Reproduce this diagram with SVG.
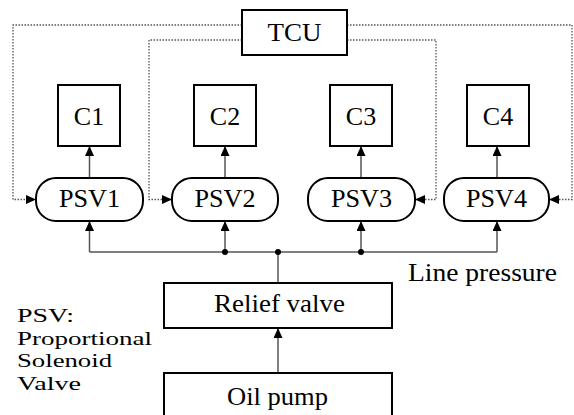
<svg xmlns="http://www.w3.org/2000/svg" width="574" height="415" viewBox="0 0 574 415">
<style>
.box{fill:#fff;stroke:#000;stroke-width:2}
.t{font-size:26px;fill:#000}
.lg{font-size:19px}
.c{text-anchor:middle}
.ln{fill:none;stroke:#555;stroke-width:1.5}
.dt{fill:none;stroke:#555;stroke-width:1.3;stroke-dasharray:1.5 1.5}
</style>
<defs>
<marker id="ah" markerUnits="userSpaceOnUse" markerWidth="10" markerHeight="10" refX="10" refY="4.5" orient="auto">
<path d="M0,0 L10,4.5 L0,9 z" fill="#000"/>
</marker>
</defs>
<g id="connectors">
<path class="dt" d="M242,25 H13 V199.5 H36" marker-end="url(#ah)"/>
<path class="dt" d="M242,40 H149 V199.5 H172" marker-end="url(#ah)"/>
<path class="dt" d="M347,40 H436 V199.5 H415" marker-end="url(#ah)"/>
<path class="dt" d="M347,25 H572 V199.5 H549" marker-end="url(#ah)"/>
<path class="ln" d="M89.5,178 V146" marker-end="url(#ah)"/>
<path class="ln" d="M225,178 V146" marker-end="url(#ah)"/>
<path class="ln" d="M361,178 V146" marker-end="url(#ah)"/>
<path class="ln" d="M497,178 V146" marker-end="url(#ah)"/>
<path class="ln" d="M89.5,252 H497" />
<path class="ln" d="M89.5,252 V221" marker-end="url(#ah)"/>
<path class="ln" d="M225,252 V221" marker-end="url(#ah)"/>
<path class="ln" d="M361,252 V221" marker-end="url(#ah)"/>
<path class="ln" d="M497,252 V221" marker-end="url(#ah)"/>
<path class="ln" d="M278,283 V252"/>
<path class="ln" d="M278,373 V328" marker-end="url(#ah)"/>
<circle cx="225" cy="252" r="3" fill="#000"/>
<circle cx="278" cy="252" r="3" fill="#000"/>
<circle cx="361" cy="252" r="3" fill="#000"/>
</g>
<g font-family="Liberation Serif, Times New Roman, DejaVu Serif, serif">
<g id="tcu"><rect class="box" x="242" y="10" width="105" height="45"/><text class="t c" x="294.5" y="41" textLength="54" lengthAdjust="spacingAndGlyphs">TCU</text></g>
<g id="c1"><rect class="box" x="58" y="85" width="62" height="61"/><text class="t c" x="89" y="125">C1</text></g>
<g id="c2"><rect class="box" x="194" y="85" width="62" height="61"/><text class="t c" x="225" y="125">C2</text></g>
<g id="c3"><rect class="box" x="330" y="85" width="62" height="61"/><text class="t c" x="361" y="125">C3</text></g>
<g id="c4"><rect class="box" x="467" y="85" width="62" height="61"/><text class="t c" x="498" y="125">C4</text></g>
<g id="psv1"><rect class="box" x="36" y="178" width="107" height="43" rx="20" ry="20"/><text class="t c" x="89.5" y="207" textLength="61" lengthAdjust="spacingAndGlyphs">PSV1</text></g>
<g id="psv2"><rect class="box" x="172" y="178" width="106" height="43" rx="20" ry="20"/><text class="t c" x="225" y="207" textLength="61" lengthAdjust="spacingAndGlyphs">PSV2</text></g>
<g id="psv3"><rect class="box" x="308" y="178" width="107" height="43" rx="20" ry="20"/><text class="t c" x="361.5" y="207" textLength="61" lengthAdjust="spacingAndGlyphs">PSV3</text></g>
<g id="psv4"><rect class="box" x="444" y="178" width="105" height="43" rx="20" ry="20"/><text class="t c" x="496.5" y="207" textLength="61" lengthAdjust="spacingAndGlyphs">PSV4</text></g>
<g id="relief"><rect class="box" x="164" y="283" width="228" height="45"/><text class="t c" x="279.5" y="312" textLength="131" lengthAdjust="spacingAndGlyphs">Relief valve</text></g>
<g id="pump"><rect class="box" x="164" y="373" width="228" height="50"/><text class="t c" x="277.5" y="405" textLength="101" lengthAdjust="spacingAndGlyphs">Oil pump</text></g>
<g id="labels">
<text class="t" x="408" y="281" textLength="149" lengthAdjust="spacingAndGlyphs">Line pressure</text>
<text class="t lg" x="17" y="322" textLength="57" lengthAdjust="spacingAndGlyphs">PSV:</text>
<text class="t lg" x="17" y="344.5" textLength="135" lengthAdjust="spacingAndGlyphs">Proportional</text>
<text class="t lg" x="17" y="367" textLength="95" lengthAdjust="spacingAndGlyphs">Solenoid</text>
<text class="t lg" x="17" y="389.5" textLength="64" lengthAdjust="spacingAndGlyphs">Valve</text>
</g>
</g>
</svg>
